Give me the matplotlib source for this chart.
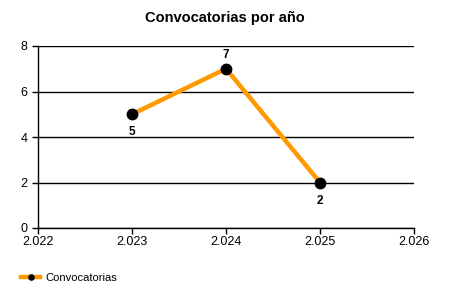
import matplotlib
matplotlib.use("Agg")
import matplotlib.pyplot as plt
from matplotlib.ticker import FuncFormatter

years = [2023, 2024, 2025]
counts = [5, 7, 2]
label_offsets = [-13, 10, -13]   # points: below, above, below
xticks = [2022, 2023, 2024, 2025, 2026]
yticks = [0, 2, 4, 6, 8]

plt.rcParams["font.family"] = ["Liberation Sans", "DejaVu Sans"]

fig = plt.figure(figsize=(4.5, 3), dpi=100)
ax = fig.add_axes([38/450, 1 - 228/300, (414 - 38)/450, (228 - 46)/300])

line, = ax.plot(years, counts, color="#FF9900", linewidth=3.2, marker="o",
                markersize=7.5, markerfacecolor="black", markeredgecolor="black",
                label="Convocatorias", zorder=3)

for x, y, off in zip(years, counts, label_offsets):
    ax.annotate(str(y), (x, y), xytext=(0, off), textcoords="offset points",
                ha="center", va="center", fontsize=8.5, fontweight="bold")

ax.set_xlim(2022, 2026)
ax.set_ylim(0, 8)
ax.set_xticks(xticks)
ax.set_yticks(yticks)
ax.xaxis.set_major_formatter(FuncFormatter(lambda v, p: f"{int(v)//1000}.{int(v)%1000:03d}"))
ax.tick_params(axis="both", labelsize=9, color="black", length=4, width=1)
ax.tick_params(axis="x", pad=2)
ax.grid(axis="y", color="black", linewidth=1)
ax.set_axisbelow(True)
for s in ["top", "right"]:
    ax.spines[s].set_visible(False)
ax.spines["left"].set_linewidth(1)
ax.spines["bottom"].set_linewidth(1)

fig.text(0.5, 1 - 18/300, "Convocatorias por año", ha="center", va="center",
         fontsize=10.5, fontweight="bold")

fig.legend(handles=[line], loc="center left", bbox_to_anchor=(0.035, 1 - 278/300),
           frameon=False, fontsize=8, handlelength=1.7, markerscale=0.5,
           handletextpad=0.5, borderpad=0)

fig.savefig("out.png", dpi=100)
